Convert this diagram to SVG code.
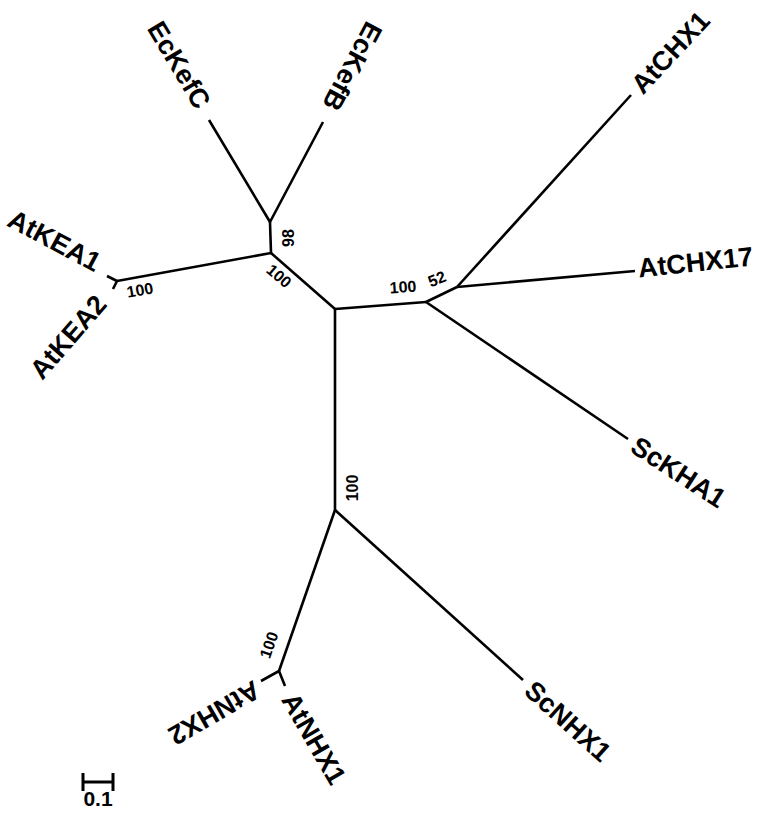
<svg xmlns="http://www.w3.org/2000/svg" width="761" height="815" viewBox="0 0 761 815">
<style>
.br{stroke:#000;stroke-width:2.6;fill:none;stroke-linecap:butt;stroke-linejoin:round}
.lb{font-family:"Liberation Sans",Arial,sans-serif;font-weight:bold;font-size:27px;fill:#000}
.bs{font-family:"Liberation Sans",Arial,sans-serif;font-weight:bold;font-size:16px;fill:#000;text-anchor:middle;dominant-baseline:central}
</style>
<rect width="761" height="815" fill="#fff"/>
<g id="connectors" class="br">
<polyline points="209,120 270,222 323,122"/>
<line x1="270" y1="222" x2="271" y2="253"/>
<line x1="271" y1="253" x2="117" y2="281"/>
<polyline points="107,276 117,281 113,289"/>
<line x1="271" y1="253" x2="335" y2="309"/>
<line x1="335" y1="309" x2="426" y2="302"/>
<line x1="426" y1="302" x2="457" y2="287"/>
<line x1="457" y1="287" x2="631" y2="95"/>
<line x1="457" y1="287" x2="635" y2="271"/>
<line x1="426" y1="302" x2="628" y2="439"/>
<line x1="335" y1="309" x2="335" y2="510"/>
<line x1="335" y1="510" x2="279" y2="671"/>
<polyline points="261,681 279,671 285,686"/>
<line x1="335" y1="510" x2="523" y2="680"/>
</g>
<g id="EcKefC"><text class="lb" text-anchor="end" dy="0.35em" transform="translate(204,106) rotate(59)">EcKefC</text></g>
<g id="EcKefB"><text class="lb" text-anchor="end" dy="0.35em" transform="translate(330,109) rotate(118)">EcKefB</text></g>
<g id="AtKEA1"><text class="lb" text-anchor="end" dy="0.35em" transform="translate(99,264) rotate(28)">AtKEA1</text></g>
<g id="AtKEA2"><text class="lb" text-anchor="end" dy="0.35em" transform="translate(101,299) rotate(-49)">AtKEA2</text></g>
<g id="AtCHX1"><text class="lb" dy="0.35em" transform="translate(636,89) rotate(-47)">AtCHX1</text></g>
<g id="AtCHX17"><text class="lb" dy="0.35em" transform="translate(638,268) rotate(-6)">AtCHX17</text></g>
<g id="ScKHA1"><text class="lb" dy="0.35em" transform="translate(634,443) rotate(33)">ScKHA1</text></g>
<g id="ScNHX1"><text class="lb" dy="0.35em" transform="translate(529,686) rotate(42)">ScNHX1</text></g>
<g id="AtNHX1"><text class="lb" dy="0.35em" transform="translate(289,695) rotate(60)">AtNHX1</text></g>
<g id="AtNHX2"><text class="lb" dy="0.35em" transform="translate(258,688) rotate(150)">AtNHX2</text></g>
<g id="bootstrap">
<text class="bs" transform="translate(288,238) rotate(-90)">98</text>
<text class="bs" transform="translate(279,276) rotate(41)">100</text>
<text class="bs" transform="translate(140,290) rotate(-10)">100</text>
<text class="bs" transform="translate(403,287) rotate(-4)">100</text>
<text class="bs" transform="translate(437,279) rotate(-22)">52</text>
<text class="bs" transform="translate(352,488) rotate(-90)">100</text>
<text class="bs" transform="translate(269,645) rotate(-71)">100</text>
</g>
<g id="scale">
<path d="M83,773 V791 M113,773 V791 M83,782 H113" stroke="#000" stroke-width="3" fill="none"/>
<text x="98" y="806" text-anchor="middle" font-family="Liberation Sans,Arial,sans-serif" font-weight="bold" font-size="21">0.1</text>
</g>
</svg>
